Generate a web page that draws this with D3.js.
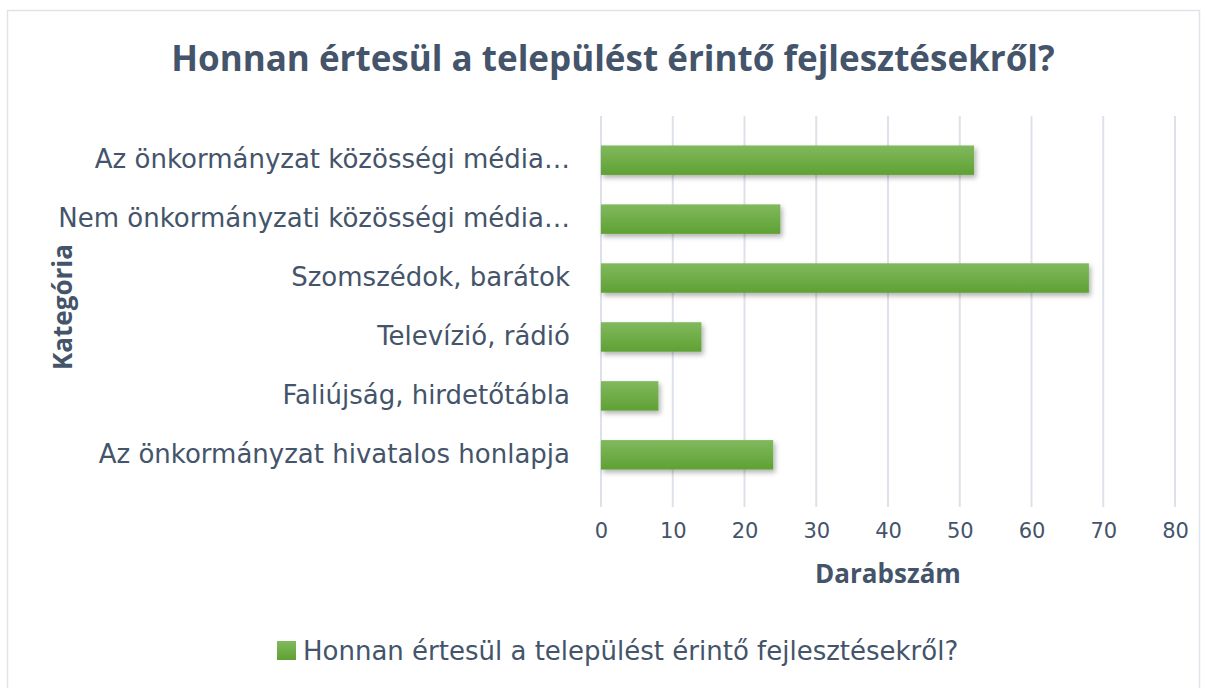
<!DOCTYPE html>
<html>
<head>
<meta charset="utf-8">
<script src="https://cdn.jsdelivr.net/npm/d3@7"></script>
<style>
  body { margin: 0; background: #fff; }
  text { font-family: "DejaVu Sans", sans-serif; fill: #44546a; }
</style>
</head>
<body>
<svg id="chart" width="1206" height="688"></svg>
<script>
// chart data, top to bottom as it is shown
var categories = [
  'Az önkormányzat közösségi média…',
  'Nem önkormányzati közösségi média…',
  'Szomszédok, barátok',
  'Televízió, rádió',
  'Faliújság, hirdetőtábla',
  'Az önkormányzat hivatalos honlapja'
];
var values = [52, 25, 68, 14, 8, 24];
var tickValues = [0, 10, 20, 30, 40, 50, 60, 70, 80];

var title = 'Honnan értesül a települést érintő fejlesztésekről?';
var seriesName = 'Honnan értesül a települést érintő fejlesztésekről?';
var xTitle = 'Darabszám';
var yTitle = 'Kategória';

var svg = d3.select('#chart');
var width = 1206, height = 688;

// outer chart border
svg.append('rect')
  .attr('x', 7.5).attr('y', 10.5)
  .attr('width', width - 14).attr('height', height)
  .attr('fill', '#fff')
  .attr('stroke', '#dfe3ea').attr('stroke-width', 1.5);

var plot = {left: 601, right: 1175, top: 116, bottom: 499};

var x = d3.scaleLinear().domain([0, 80]).range([plot.left, plot.right]);
var y = d3.scaleBand().domain(categories).range([plot.top, plot.bottom]).padding(0.5);

// gradient + shadow for the bars
var defs = svg.append('defs');
var grad = defs.append('linearGradient').attr('id', 'barGrad')
  .attr('x1', 0).attr('y1', 0).attr('x2', 0).attr('y2', 1);
grad.append('stop').attr('offset', '0%').attr('stop-color', '#81b95e');
grad.append('stop').attr('offset', '100%').attr('stop-color', '#5fa133');

var filt = defs.append('filter').attr('id', 'shadow')
  .attr('x', '-10%').attr('y', '-30%').attr('width', '130%').attr('height', '180%');
filt.append('feDropShadow')
  .attr('dx', 2).attr('dy', 3).attr('stdDeviation', 2.5)
  .attr('flood-color', '#000').attr('flood-opacity', 0.3);

// gridlines
svg.append('g')
  .selectAll('line')
  .data(tickValues)
  .join('line')
  .attr('x1', d => x(d)).attr('x2', d => x(d))
  .attr('y1', plot.top).attr('y2', plot.bottom + 8)
  .attr('stroke', '#dde1e9').attr('stroke-width', 2);

// bars
svg.append('g')
  .selectAll('rect')
  .data(values)
  .join('rect')
  .attr('x', x(0))
  .attr('y', (d, i) => y(categories[i]))
  .attr('width', d => x(d) - x(0))
  .attr('height', y.bandwidth())
  .attr('fill', 'url(#barGrad)')
  .attr('filter', 'url(#shadow)');

// x axis tick labels
var xAxis = d3.axisBottom(x).tickValues(tickValues).tickSize(0).tickPadding(0);
var gx = svg.append('g').attr('transform', 'translate(0,' + 538 + ')').call(xAxis);
gx.select('.domain').remove();
gx.selectAll('text')
  .attr('dy', 0)
  .style('font-size', '21px')
  .style('fill', '#44546a')
  .style('font-family', '"DejaVu Sans", sans-serif');

// y axis category labels
var yAxis = d3.axisLeft(y).tickSize(0).tickPadding(31);
var gy = svg.append('g').attr('transform', 'translate(' + plot.left + ',0)').call(yAxis);
gy.select('.domain').remove();
gy.selectAll('text')
  .attr('dy', '0.3em')
  .style('font-size', '26px')
  .style('fill', '#44546a')
  .style('font-family', '"DejaVu Sans", sans-serif');

// titles
svg.append('text')
  .attr('x', 613).attr('y', 71)
  .attr('text-anchor', 'middle')
  .style('font-family', '"Open Sans", sans-serif')
  .style('font-size', '35px').style('font-weight', 'bold')
  .text(title);

svg.append('text')
  .attr('x', 888).attr('y', 583)
  .attr('text-anchor', 'middle')
  .style('font-family', '"Open Sans", sans-serif')
  .style('font-size', '26px').style('font-weight', 'bold')
  .text(xTitle);

svg.append('text')
  .attr('transform', 'translate(72,307) rotate(-90)')
  .attr('text-anchor', 'middle')
  .style('font-family', '"Open Sans", sans-serif')
  .style('font-size', '26px').style('font-weight', 'bold')
  .text(yTitle);

// legend
var legend = svg.append('g').attr('transform', 'translate(277,641)');
legend.append('rect')
  .attr('width', 19).attr('height', 19)
  .attr('fill', 'url(#barGrad)');
legend.append('text')
  .attr('x', 26).attr('y', 19)
  .style('font-size', '26px')
  .text(seriesName);
</script>
</body>
</html>
